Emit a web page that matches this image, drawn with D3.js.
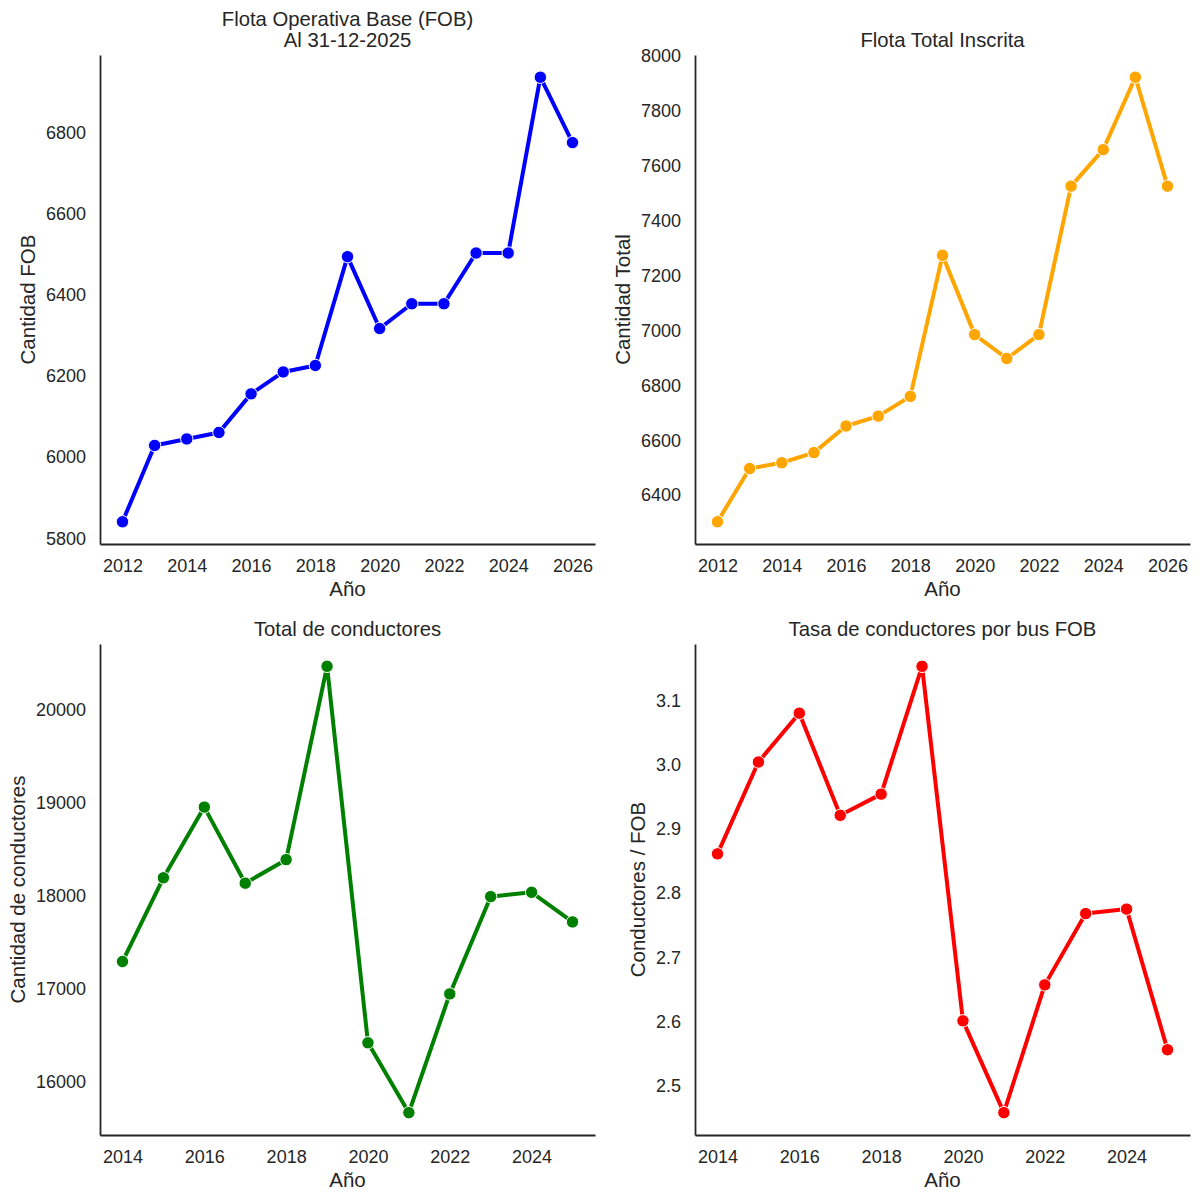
<!DOCTYPE html>
<html>
<head>
<meta charset="utf-8">
<script src="https://cdn.jsdelivr.net/npm/d3@7"></script>
<style>
  html, body { margin: 0; padding: 0; background: #ffffff; }
  svg { display: block; }
  text { font-family: "Liberation Sans", Arial, sans-serif; fill: #262626; }
</style>
</head>
<body>
<svg id="chart" width="1200" height="1200"></svg>
<script>
// ---- Data ----
const yearsFleet = [2012, 2013, 2014, 2015, 2016, 2017, 2018, 2019, 2020, 2021, 2022, 2023, 2024, 2025, 2026];
const fobValues = [5841, 6029, 6045, 6061, 6156, 6210, 6226, 6494, 6317, 6378, 6378, 6503, 6503, 6936, 6775];
const totalFleetValues = [6303, 6497, 6518, 6555, 6652, 6688, 6760, 7274, 6985, 6898, 6985, 7526, 7659, 7923, 7526];

const yearsDrivers = [2014, 2015, 2016, 2017, 2018, 2019, 2020, 2021, 2022, 2023, 2024, 2025];
const driverValues = [17292, 18193, 18954, 18135, 18388, 20469, 16417, 15665, 16943, 17990, 18037, 17718];
const ratioValues = [2.861, 3.004, 3.080, 2.921, 2.954, 3.153, 2.601, 2.458, 2.657, 2.768, 2.775, 2.556];

const xTicksFleet = [2012, 2014, 2016, 2018, 2020, 2022, 2024, 2026];
const xTicksDrivers = [2014, 2016, 2018, 2020, 2022, 2024];
const yTicksFob = [5800, 6000, 6200, 6400, 6600, 6800];
const yTicksTotal = [6400, 6600, 6800, 7000, 7200, 7400, 7600, 7800, 8000];
const yTicksDrivers = [16000, 17000, 18000, 19000, 20000];
const yTicksRatio = [2.5, 2.6, 2.7, 2.8, 2.9, 3.0, 3.1];

const titles = ["Flota Operativa Base (FOB)\nAl 31-12-2025", "Flota Total Inscrita", "Total de conductores", "Tasa de conductores por bus FOB"];
const yLabels = ["Cantidad FOB", "Cantidad Total", "Cantidad de conductores", "Conductores / FOB"];
const xLabel = "Año";
const colors = ["blue", "orange", "green", "red"];

// ---- Layout ----
const svg = d3.select("#chart");
const panels = [
  { x0: 100, x1: 595, y0: 55, y1: 544, xs: yearsFleet, ys: fobValues, xt: xTicksFleet, yt: yTicksFob, fmt: d3.format("d") },
  { x0: 695, x1: 1190, y0: 55, y1: 544, xs: yearsFleet, ys: totalFleetValues, xt: xTicksFleet, yt: yTicksTotal, fmt: d3.format("d") },
  { x0: 100, x1: 595, y0: 644, y1: 1135, xs: yearsDrivers, ys: driverValues, xt: xTicksDrivers, yt: yTicksDrivers, fmt: d3.format("d") },
  { x0: 695, x1: 1190, y0: 644, y1: 1135, xs: yearsDrivers, ys: ratioValues, xt: xTicksDrivers, yt: yTicksRatio, fmt: d3.format(".1f") }
];

function padded(ext) {
  const r = ext[1] - ext[0];
  return [ext[0] - 0.05 * r, ext[1] + 0.05 * r];
}

panels.forEach((p, i) => {
  const xScale = d3.scaleLinear().domain(padded(d3.extent(p.xs))).range([p.x0, p.x1]);
  const yScale = d3.scaleLinear().domain(padded(d3.extent(p.ys))).range([p.y1, p.y0]);
  const g = svg.append("g");

  // axes
  const xAxis = g.append("g").attr("transform", `translate(0,${p.y1})`)
    .call(d3.axisBottom(xScale).tickValues(p.xt).tickFormat(d3.format("d")).tickSize(0).tickPadding(15));
  const yAxis = g.append("g").attr("transform", `translate(${p.x0},0)`)
    .call(d3.axisLeft(yScale).tickValues(p.yt).tickFormat(p.fmt).tickSize(0).tickPadding(14));
  [xAxis, yAxis].forEach(a => {
    a.select(".domain").attr("stroke", "#262626").attr("stroke-width", 1.8);
    a.selectAll("text").attr("font-size", 18).attr("fill", "#262626")
      .attr("font-family", "'Liberation Sans', Arial, sans-serif");
  });

  // data
  const pts = p.xs.map((x, k) => [x, p.ys[k]]);
  const line = d3.line().x(d => xScale(d[0])).y(d => yScale(d[1]));
  g.append("path").datum(pts).attr("d", line)
    .attr("fill", "none").attr("stroke", colors[i]).attr("stroke-width", 4)
    .attr("stroke-linejoin", "round");
  g.selectAll("circle").data(pts).enter().append("circle")
    .attr("cx", d => xScale(d[0])).attr("cy", d => yScale(d[1])).attr("r", 6.2)
    .attr("fill", colors[i]).attr("stroke", "#ffffff").attr("stroke-width", 1);

  // title
  const cx = (p.x0 + p.x1) / 2;
  const tLines = titles[i].split("\n");
  const t = g.append("text").attr("text-anchor", "middle").attr("font-size", 20.3);
  tLines.forEach((ln, k) => {
    t.append("tspan").attr("x", cx)
      .attr("y", p.y0 - 8 - (tLines.length - 1 - k) * 21).text(ln);
  });

  // x label
  g.append("text").attr("text-anchor", "middle").attr("font-size", 20.5)
    .attr("x", cx).attr("y", p.y1 + 52).text(xLabel);

  // y label positioned left of tick labels
  let minLeft = Infinity;
  yAxis.selectAll("text").each(function () {
    const b = this.getBBox();
    minLeft = Math.min(minLeft, p.x0 + b.x);
  });
  const lx = minLeft - 11;
  const ly = (p.y0 + p.y1) / 2;
  g.append("text").attr("text-anchor", "middle").attr("font-size", 20.5)
    .attr("transform", `translate(${lx},${ly}) rotate(-90)`).text(yLabels[i]);
});
</script>
</body>
</html>
